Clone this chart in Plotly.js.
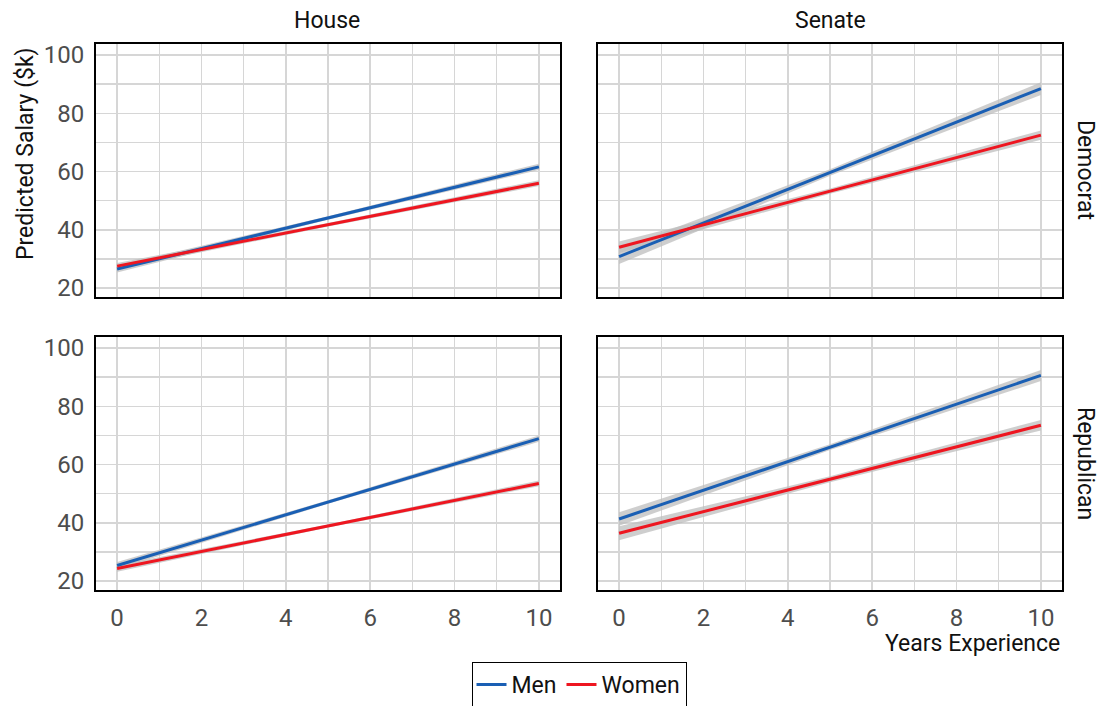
<!DOCTYPE html>
<html>
<head>
<meta charset="utf-8">
<script src="https://cdn.plot.ly/plotly-3.0.1.min.js"></script>
<style>
  html, body { margin: 0; padding: 0; background: #fff; }
  #chart { width: 1102px; height: 706px; }
</style>
</head>
<body>
<div id="chart"></div>
<script>
// Predicted salary by years of experience, faceted by chamber and party
const years = [0, 10];
const bandYears = [0, 5, 10];

const chambers = ["House", "Senate"];
const parties = ["Democrat", "Republican"];
const genders = ["Men", "Women"];

// fitted lines (salary in $k at 0 and 10 years)
const houseDemMen = [26.5, 61.6];
const houseDemWomen = [27.5, 56.0];
const senateDemMen = [30.8, 88.5];
const senateDemWomen = [34.0, 72.5];
const houseRepMen = [25.3, 68.9];
const houseRepWomen = [24.3, 53.5];
const senateRepMen = [41.3, 90.6];
const senateRepWomen = [36.4, 73.5];

// confidence band half-widths at 0, 5 and 10 years
const houseDemMenCI = [1.2, 0.6, 1.1];
const houseDemWomenCI = [1.1, 0.6, 1.0];
const senateDemMenCI = [2.6, 1.1, 2.2];
const senateDemWomenCI = [2.0, 0.9, 1.6];
const houseRepMenCI = [1.2, 0.6, 1.1];
const houseRepWomenCI = [1.1, 0.5, 1.0];
const senateRepMenCI = [2.3, 1.0, 1.9];
const senateRepWomenCI = [2.4, 1.0, 1.8];

const xTicks = [0, 2, 4, 6, 8, 10];
const yTicks = [20, 40, 60, 80, 100];

const colors = { Men: "#1a5fb4", Women: "#ee1620" };

const panels = [
  { xa: "x",  ya: "y",  data: { Men: [houseDemMen, houseDemMenCI], Women: [houseDemWomen, houseDemWomenCI] } },
  { xa: "x2", ya: "y2", data: { Men: [senateDemMen, senateDemMenCI], Women: [senateDemWomen, senateDemWomenCI] } },
  { xa: "x3", ya: "y3", data: { Men: [houseRepMen, houseRepMenCI], Women: [houseRepWomen, houseRepWomenCI] } },
  { xa: "x4", ya: "y4", data: { Men: [senateRepMen, senateRepMenCI], Women: [senateRepWomen, senateRepWomenCI] } }
];

function lineAt(vals, x) {
  return vals[0] + (vals[1] - vals[0]) * (x - years[0]) / (years[1] - years[0]);
}

const traces = [];
// bands first so lines sit on top
panels.forEach(p => {
  genders.forEach(g => {
    const [vals, ci] = p.data[g];
    const mid = bandYears.map(x => lineAt(vals, x));
    const upper = mid.map((m, i) => m + ci[i]);
    const lower = mid.map((m, i) => m - ci[i]);
    traces.push({
      type: "scatter", mode: "lines",
      x: bandYears.concat(bandYears.slice().reverse()),
      y: upper.concat(lower.slice().reverse()),
      fill: "toself", fillcolor: "rgba(190,190,190,0.75)",
      line: { width: 0 }, hoverinfo: "skip", showlegend: false,
      xaxis: p.xa, yaxis: p.ya
    });
  });
});
panels.forEach((p, i) => {
  genders.forEach(g => {
    traces.push({
      type: "scatter", mode: "lines",
      x: years, y: p.data[g][0],
      name: g, legendgroup: g, showlegend: i === 0,
      line: { color: colors[g], width: 3 },
      xaxis: p.xa, yaxis: p.ya
    });
  });
});

const W = 1102, H = 706;
const colL = [96 / W, 560 / W], colR = [598 / W, 1062 / W];
const rowT = [1 - 297 / H, 1 - 44 / H], rowB = [1 - 590 / H, 1 - 337 / H];
const gridColor = "#d6d6d6";
const tickFont = { family: "Roboto, sans-serif", size: 24, color: "#4d4d4d" };
const labelFont = { family: "Roboto, sans-serif", size: 23, color: "#111" };

function xAxis(domain, anchor, labels) {
  return {
    domain, anchor, range: [-0.5, 10.5],
    tickvals: xTicks, showticklabels: labels, tickfont: tickFont, ticks: "",
    ticklabelstandoff: 5,
    showgrid: true, gridcolor: gridColor, gridwidth: 1.5,
    minor: { dtick: 1, tick0: 0, showgrid: true, gridcolor: gridColor, gridwidth: 1.5 },
    showline: true, mirror: true, linecolor: "#000", linewidth: 2, zeroline: false,
    fixedrange: true
  };
}
function yAxis(domain, anchor, labels) {
  return {
    domain, anchor, range: [16.9, 103.8],
    tickvals: yTicks, showticklabels: labels, tickfont: tickFont, ticks: "",
    ticklabelstandoff: 5,
    showgrid: true, gridcolor: gridColor, gridwidth: 1.5,
    minor: { dtick: 10, tick0: 0, showgrid: true, gridcolor: gridColor, gridwidth: 1.5 },
    showline: true, mirror: true, linecolor: "#000", linewidth: 2, zeroline: false,
    fixedrange: true
  };
}

function label(text, xPx, yPx, extra) {
  return Object.assign({
    text, x: xPx / W, y: 1 - yPx / H, xref: "paper", yref: "paper",
    xanchor: "center", yanchor: "middle", showarrow: false, font: labelFont
  }, extra || {});
}

const annotations = [
  label(chambers[0], 327, 20),
  label(chambers[1], 830, 20),
  label(parties[0], 1086, 170, { textangle: 90 }),
  label(parties[1], 1086, 463, { textangle: 90 }),
  label("Predicted Salary ($k)", 26, 154, { textangle: -90 }),
  label("Years Experience", 1062, 643, { xanchor: "right" })
];

const layout = {
  width: W, height: H,
  margin: { l: 0, r: 0, t: 0, b: 0, autoexpand: false },
  paper_bgcolor: "#fff", plot_bgcolor: "#fff",
  showlegend: true,
  legend: {
    orientation: "h", x: 579 / W, xanchor: "center", y: 1 - 662 / H, yanchor: "top",
    bordercolor: "#000", borderwidth: 1, bgcolor: "#fff",
    font: labelFont, itemwidth: 30, tracegroupgap: 0
  },
  xaxis: xAxis(colL, "y", false),
  yaxis: yAxis(rowT, "x", true),
  xaxis2: xAxis(colR, "y2", false),
  yaxis2: yAxis(rowT, "x2", false),
  xaxis3: xAxis(colL, "y3", true),
  yaxis3: yAxis(rowB, "x3", true),
  xaxis4: xAxis(colR, "y4", true),
  yaxis4: yAxis(rowB, "x4", false),
  annotations
};

Plotly.newPlot("chart", traces, layout, { displayModeBar: false, staticPlot: true });
</script>
</body>
</html>
